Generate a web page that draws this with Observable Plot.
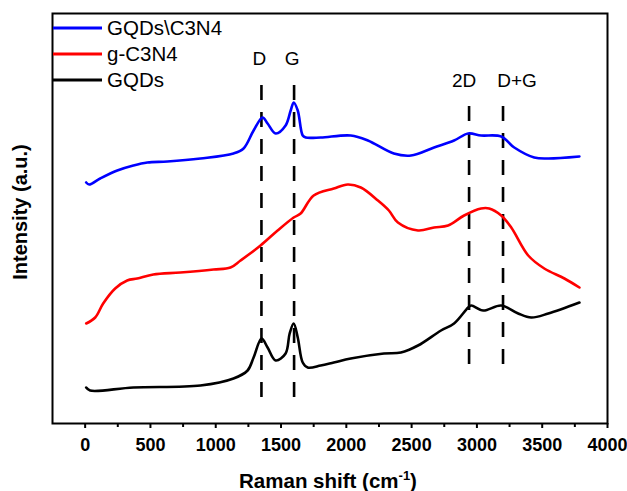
<!DOCTYPE html>
<html>
<head>
<meta charset="utf-8">
<script src="https://cdn.jsdelivr.net/npm/d3@7"></script>
<script src="https://cdn.jsdelivr.net/npm/@observablehq/plot@0.6"></script>
<style>
  html, body { margin: 0; padding: 0; background: #fff; }
  svg { font-family: "Liberation Sans", Arial, sans-serif; }
</style>
</head>
<body>
<div id="chart"></div>
<script>
// Raman shift (cm-1) and intensity (a.u., arbitrary offsets)
const blueX = [8,31,115,246,369,476,630,883,1136,1213,1290,1359,1397,1459,1535,1574,1597,1628,1666,1689,1804,2034,2165,2364,2495,2672,2825,2933,3032,3186,3286,3439,3547,3785];
const blueY = [240,238,244,252,257,260,261,264,269,274,292,305,299,289,297,312,320,312,287,285,285,287,282,269,267,275,282,289,287,286,275,265,264,266];

const redX = [8,77,138,230,322,399,522,729,983,1113,1190,1343,1474,1597,1650,1750,1904,2011,2111,2242,2326,2395,2549,2672,2779,2902,3032,3094,3186,3263,3393,3516,3670,3785];
const redY = [99,105,119,134,142,144,148,150,153,155,162,177,192,205,209,227,234,238,235,222,212,200,192,195,197,207,214,214,207,195,167,154,144,135];

const blackX = [8,38,369,883,1136,1244,1290,1351,1397,1459,1535,1566,1597,1628,1666,1704,1804,1904,2034,2288,2418,2549,2725,2825,2933,2956,3048,3186,3316,3416,3547,3785];
const blackY = [35,32,35,37,44,52,65,84,75,62,69,89,99,85,60,55,57,60,64,69,70,77,92,99,115,117,112,117,109,105,109,120];

const seriesNames = ["GQDs\\C3N4", "g-C3N4", "GQDs"];
const seriesColors = ["#0000ff", "#ff0000", "#000000"];

const peakLabelsLow = ["D", "G"];
const peakXLow = [1350, 1600];
const peakLabelsHigh = ["2D", "D+G"];
const peakXHigh = [2940, 3200];

const xTicks = [0, 500, 1000, 1500, 2000, 2500, 3000, 3500, 4000];
const xMinorTicks = [250, 750, 1250, 1750, 2250, 2750, 3250, 3750];

const toRows = (xs, ys) => xs.map((x, i) => ({x, y: ys[i]}));
const blue = toRows(blueX, blueY);
const red = toRows(redX, redY);
const black = toRows(blackX, blackY);
const low = peakLabelsLow.map((l, i) => ({label: l, x: peakXLow[i]}));
const high = peakLabelsHigh.map((l, i) => ({label: l, x: peakXHigh[i]}));

const lineStyle = {x: "x", y: "y", strokeWidth: 2.6, curve: "catmull-rom"};

const plot = Plot.plot({
  width: 627,
  height: 491,
  marginLeft: 52,
  marginRight: 20,
  marginTop: 13,
  marginBottom: 68,
  x: {domain: [-250, 4000]},
  y: {domain: [-1, 409], axis: null},
  marks: [
    Plot.ruleX(low, {x: "x", y1: 25, y2: 348, stroke: "black", strokeWidth: 2.6, strokeDasharray: "15,12"}),
    Plot.ruleX(high, {x: "x", y1: 58, y2: 316, stroke: "black", strokeWidth: 2.6, strokeDasharray: "15,12"}),
    Plot.line(black, {...lineStyle, stroke: seriesColors[2]}),
    Plot.line(red, {...lineStyle, stroke: seriesColors[1]}),
    Plot.line(blue, {...lineStyle, stroke: seriesColors[0]}),
    Plot.text(low, {x: "x", y: 364, text: "label", fontSize: 19, dx: -2, fill: "black"}),
    Plot.text(high.slice(0,1), {x: "x", y: 342, text: "label", fontSize: 19, dx: -5, fill: "black"}),
    Plot.text(high.slice(1), {x: "x", y: 342, text: "label", fontSize: 19, dx: 14, fill: "black"}),
    Plot.axisX({ticks: xTicks, tickSize: 5, tickPadding: 10, fontSize: 18, fontWeight: "bold", strokeWidth: 2, label: null, tickFormat: d => String(d)}),
    Plot.axisX({ticks: xMinorTicks, tickSize: 4, strokeWidth: 2, text: null, label: null}),
    Plot.frame({stroke: "black", strokeWidth: 2})
  ]
});

const svg = d3.select(plot);
svg.selectAll("text").style("fill", "black");

// Axis titles
const xl = svg.append("text")
  .attr("x", 328).attr("y", 488)
  .attr("text-anchor", "middle")
  .attr("font-size", 20.5).attr("font-weight", "bold").attr("fill", "black");
xl.append("tspan").text("Raman shift (cm");
xl.append("tspan").attr("font-size", 13).attr("dy", -8).text("-1");
xl.append("tspan").attr("dy", 8).text(")");

svg.append("text")
  .attr("transform", "translate(27,212) rotate(-90)")
  .attr("text-anchor", "middle")
  .attr("font-size", 20).attr("font-weight", "bold").attr("fill", "black")
  .text("Intensity (a.u.)");

// Legend
const lg = svg.append("g").attr("text-anchor", "start");
seriesNames.forEach((name, i) => {
  const y = 28 + i * 26;
  lg.append("line").attr("x1", 53).attr("x2", 102).attr("y1", y).attr("y2", y)
    .attr("stroke", seriesColors[i]).attr("stroke-width", 3);
  lg.append("text").attr("x", 107).attr("y", y).attr("dy", "0.35em")
    .attr("text-anchor", "start")
    .attr("font-size", 20.5).attr("fill", "black").text(name);
});

document.getElementById("chart").appendChild(plot);
</script>
</body>
</html>
